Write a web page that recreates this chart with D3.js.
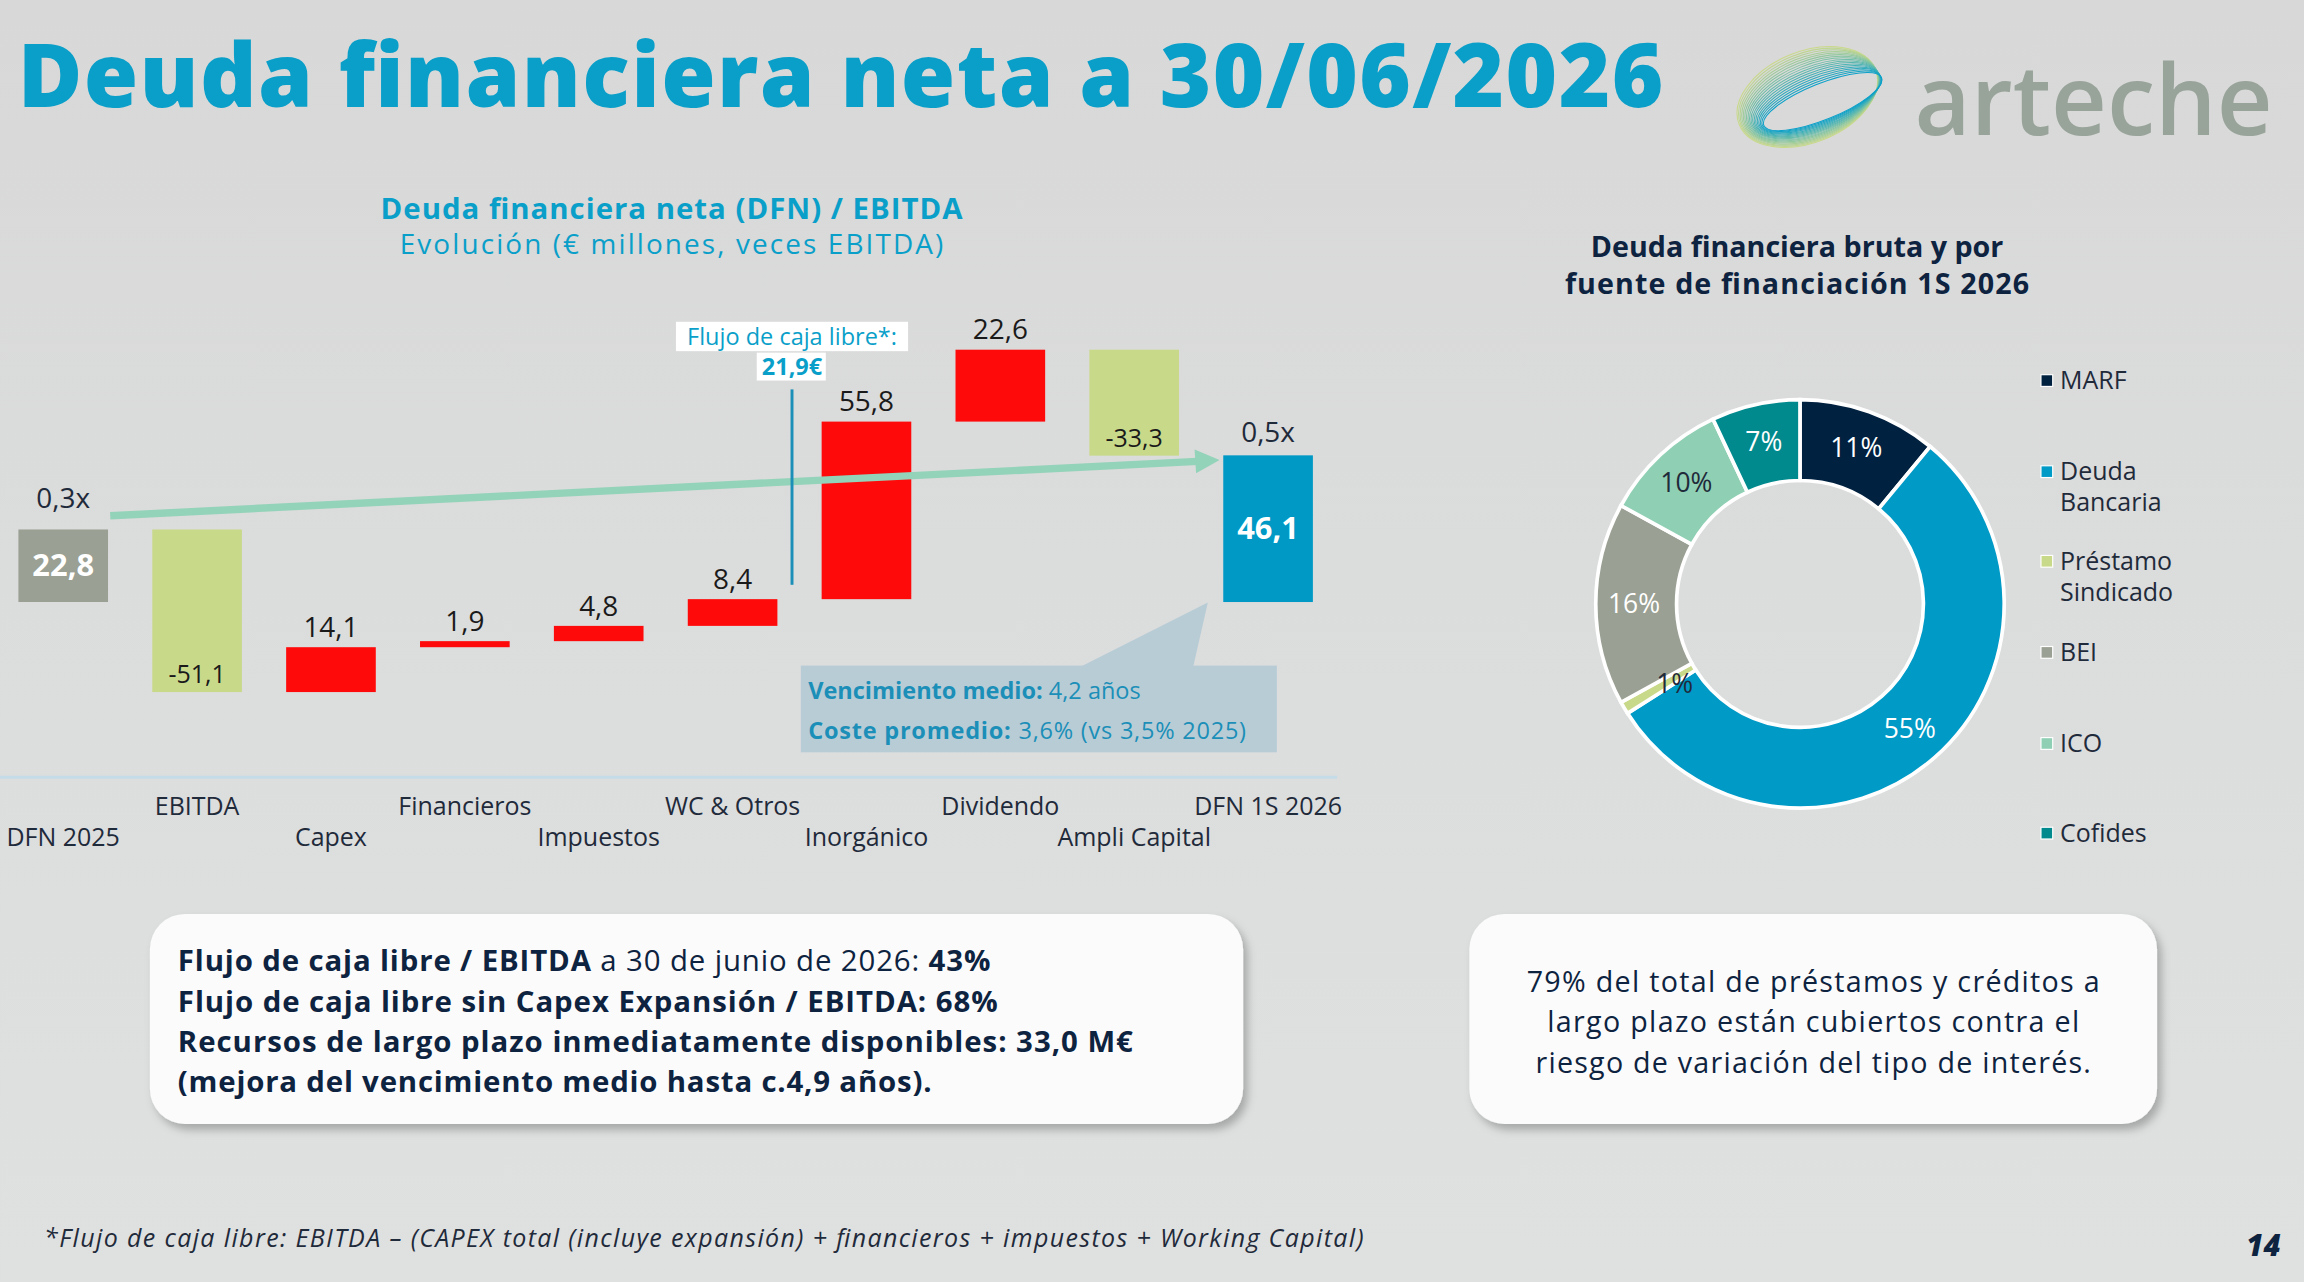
<!DOCTYPE html>
<html><head><meta charset="utf-8">
<script src="https://cdn.jsdelivr.net/npm/d3@7"></script>
<style>
body{margin:0;background:#d9d9d9;overflow:hidden}
text{font-family:"Open Sans",sans-serif}
</style></head><body>
<svg id="c" width="2304" height="1282" viewBox="0 0 1568 872.5"></svg>
<script>
// waterfall data
const steps = ["DFN 2025","EBITDA","Capex","Financieros","Impuestos","WC & Otros","Inorgánico","Dividendo","Ampli Capital","DFN 1S 2026"];
const deltas = [22.8,-51.1,14.1,1.9,4.8,8.4,55.8,22.6,-33.3,46.1];
const labels = ["22,8","-51,1","14,1","1,9","4,8","8,4","55,8","22,6","-33,3","46,1"];
const ratios = ["0,3x","0,5x"];
// donut data
const sources = ["MARF","Deuda Bancaria","Préstamo Sindicado","BEI","ICO","Cofides"];
const shares = [11,55,1,16,10,7];
const srcColors = ["#002140","#009ac7","#c9d98a","#9aa093","#8fcfb3","#008a8e"];

const svg = d3.select("#c");
const bg = svg.append("defs").append("linearGradient").attr("id","bg").attr("x1",0).attr("y1",0).attr("x2",0).attr("y2",1);
bg.append("stop").attr("offset",0).attr("stop-color","#d8d8d8");
bg.append("stop").attr("offset",1).attr("stop-color","#dfe1e1");
svg.append("rect").attr("width",1568).attr("height",873).attr("fill","url(#bg)");

svg.append("text").attr("x",12).attr("y",73).attr("font-size",60).attr("font-weight",800)
  .attr("fill","#0a9fc9").attr("textLength",1120).attr("lengthAdjust","spacing").text("Deuda financiera neta a 30/06/2026");

// logo
const lg = svg.append("g").attr("transform","translate(1230,66) rotate(-22)");
for (let i=0;i<18;i++){
  lg.append("ellipse").attr("rx",50-i*0.4).attr("ry",31-i*1.1).attr("cx",i*0.5).attr("cy",i*0.4)
    .attr("fill","none").attr("stroke",d3.interpolateRgb("#c9d98a","#0aa0c9")(i/17)).attr("stroke-width",0.7);
}
svg.append("text").attr("x",1303).attr("y",92).attr("font-size",66).attr("font-weight",600)
  .attr("fill","#98a39a").attr("font-family","Lato").text("arteche");

// chart titles
svg.append("text").attr("x",457).attr("y",149).attr("text-anchor","middle").attr("font-size",20).attr("font-weight",700).attr("fill","#0a9fc9").attr("textLength",396).text("Deuda financiera neta (DFN) / EBITDA");
svg.append("text").attr("x",457).attr("y",173).attr("text-anchor","middle").attr("font-size",19).attr("fill","#0a9fc9").attr("textLength",370).text("Evolución (€ millones, veces EBITDA)");

// waterfall
let run = 0;
const bars = deltas.map((d,i)=>{
  if (i===0 || i===deltas.length-1){ run = d; return {y0:0,y1:d,i}; }
  const y0 = run; run += d; return {y0,y1:run,i};
});
const x = d3.scalePoint().domain(steps).range([43,863]);
const y = d3.scaleLinear().domain([-28.3,79.3]).range([471,238]);
const bw = 61;
const isEnd = b => b.i===0 || b.i===steps.length-1;
const colOf = (b)=> b.i===0 ? "#9aa093" : b.i===steps.length-1 ? "#0099c6" : (deltas[b.i]<0 ? "#c9d98a" : "#ff0a0a");

svg.append("line").attr("x1",0).attr("x2",910).attr("y1",529).attr("y2",529).attr("stroke","#c4dbe8").attr("stroke-width",2);

svg.selectAll(".bar").data(bars).enter().append("rect")
  .attr("x",b=>x(steps[b.i])-bw/2).attr("width",bw)
  .attr("y",b=>y(Math.max(b.y0,b.y1))).attr("height",b=>Math.abs(y(b.y0)-y(b.y1)))
  .attr("fill",colOf);

svg.selectAll(".vl").data(bars).enter().append("text")
  .attr("x",b=>x(steps[b.i]))
  .attr("y",b=>{
    const top=y(Math.max(b.y0,b.y1)), bot=y(Math.min(b.y0,b.y1));
    if (isEnd(b)) return (top+bot)/2+7;
    if (deltas[b.i]<0) return bot-6;
    return top-7;
  })
  .attr("text-anchor","middle")
  .attr("font-size",b=>isEnd(b)?21:(deltas[b.i]<0?17:19))
  .attr("font-weight",b=>isEnd(b)?700:400)
  .attr("fill",b=>isEnd(b)?"#fff":"#1a1a1a")
  .text(b=>labels[b.i]);

svg.selectAll(".cat").data(steps).enter().append("text")
  .attr("x",d=>x(d)).attr("y",(d,i)=>i%2?555:576).attr("text-anchor","middle")
  .attr("font-size",17).attr("fill","#1f2a3a").text(d=>d);

// ratio labels
svg.append("text").attr("x",43).attr("y",346).attr("text-anchor","middle").attr("font-size",19).attr("fill","#1f2a3a").text(ratios[0]);
svg.append("text").attr("x",863).attr("y",301).attr("text-anchor","middle").attr("font-size",19).attr("fill","#1f2a3a").text(ratios[1]);

// arrow
svg.append("line").attr("x1",75).attr("y1",351).attr("x2",815).attr("y2",314).attr("stroke","#93d3b9").attr("stroke-width",5);
svg.append("path").attr("d","M813,306 L830,313 L814,322 Z").attr("fill","#93d3b9");

// flujo annotation
svg.append("line").attr("x1",539).attr("x2",539).attr("y1",265).attr("y2",398).attr("stroke","#1b8fb8").attr("stroke-width",2);
svg.append("rect").attr("x",460).attr("y",219).attr("width",158).attr("height",20).attr("fill","#fff");
svg.append("text").attr("x",539).attr("y",235).attr("text-anchor","middle").attr("font-size",16).attr("fill","#0a9fc9").text("Flujo de caja libre*:");
svg.append("rect").attr("x",515).attr("y",240).attr("width",47).attr("height",19).attr("fill","#fff");
svg.append("text").attr("x",539).attr("y",255).attr("text-anchor","middle").attr("font-size",16).attr("font-weight",700).attr("fill","#0a9fc9").text("21,9€");

// callout
svg.append("path").attr("d","M735,454 L822,410 L812,454 Z").attr("fill","#b8ccd6");
svg.append("rect").attr("x",545).attr("y",453).attr("width",324).attr("height",59).attr("fill","#b8ccd6");
const c1 = svg.append("text").attr("x",550).attr("y",476).attr("font-size",16).attr("fill","#1b8fb8");
c1.append("tspan").attr("font-weight",700).text("Vencimiento medio: ");
c1.append("tspan").text("4,2 años");
const c2 = svg.append("text").attr("x",550).attr("y",503).attr("font-size",16).attr("fill","#1b8fb8").attr("textLength",298);
c2.append("tspan").attr("font-weight",700).text("Coste promedio: ");
c2.append("tspan").text("3,6% (vs 3,5% 2025)");

// donut
svg.append("text").attr("x",1223).attr("y",175).attr("text-anchor","middle").attr("font-size",19.5).attr("font-weight",700).attr("fill","#0d2340").text("Deuda financiera bruta y por");
svg.append("text").attr("x",1223).attr("y",200).attr("text-anchor","middle").attr("font-size",19.5).attr("font-weight",700).attr("fill","#0d2340").attr("textLength",316).text("fuente de financiación 1S 2026");
const pie = d3.pie().sort(null).value(d=>d)(shares);
const arc = d3.arc().innerRadius(84).outerRadius(139);
const lab = d3.arc().innerRadius(113).outerRadius(113);
const dg = svg.append("g").attr("transform","translate(1225,411)");
dg.selectAll("path").data(pie).enter().append("path").attr("d",arc)
  .attr("fill",(d,i)=>srcColors[i]).attr("stroke","#fff").attr("stroke-width",2.5);
dg.selectAll("text").data(pie).enter().append("text")
  .attr("transform",(d,i)=>{const c=lab.centroid(d); if(i===2){c[0]+=12;c[1]-=3;} return `translate(${c})`;})
  .attr("text-anchor","middle").attr("dy","0.35em").attr("font-size",18)
  .attr("fill",(d,i)=>(i===2||i===4)?"#1f2a3a":"#fff").text(d=>d.data+"%");

const legY = [[258],[320,341],[381,402],[443],[505],[566]];
sources.forEach((s,i)=>{
  svg.append("rect").attr("x",1389).attr("y",legY[i][0]-3).attr("width",8).attr("height",8).attr("fill",srcColors[i]).attr("stroke","#fff").attr("stroke-width",0.8);
  const words = i===1?["Deuda","Bancaria"]:i===2?["Préstamo","Sindicado"]:[s];
  words.forEach((w,j)=>svg.append("text").attr("x",1402).attr("y",legY[i][j]+7).attr("font-size",17).attr("fill","#1f2a3a").text(w));
});

// bottom boxes
const f = svg.append("defs").append("filter").attr("id","sh").attr("x","-10%").attr("y","-10%").attr("width","120%").attr("height","130%");
f.append("feDropShadow").attr("dx",3).attr("dy",4).attr("stdDeviation",3).attr("flood-color","#000").attr("flood-opacity",0.25);
svg.append("rect").attr("x",102).attr("y",622).attr("width",744).attr("height",143).attr("rx",24).attr("fill","#fbfbfb").attr("filter","url(#sh)");
svg.append("rect").attr("x",1000).attr("y",622).attr("width",468).attr("height",143).attr("rx",24).attr("fill","#fbfbfb").attr("filter","url(#sh)");
const lines = [
  [[["Flujo de caja libre / EBITDA",700],[" a 30 de junio de 2026: ",400],["43%",700]],553],
  [[["Flujo de caja libre sin Capex Expansión / EBITDA: 68%",700]],558],
  [[["Recursos de largo plazo inmediatamente disponibles: 33,0 M€",700]],650],
  [[["(mejora del vencimiento medio hasta c.4,9 años).",700]],513]
];
lines.forEach((ln,k)=>{
  const t = svg.append("text").attr("x",121).attr("y",661+k*27.5).attr("font-size",20).attr("fill","#0d2340").attr("textLength",ln[1]);
  ln[0].forEach(p=>t.append("tspan").attr("font-weight",p[1]).text(p[0]));
});
[["79% del total de préstamos y créditos a",390],["largo plazo están cubiertos contra el",362],["riesgo de variación del tipo de interés.",378]].forEach((s,k)=>
  svg.append("text").attr("x",1234).attr("y",675+k*27.5).attr("text-anchor","middle").attr("font-size",19.5).attr("fill","#0d2340").attr("textLength",s[1]).text(s[0]));

svg.append("text").attr("x",30).attr("y",849).attr("font-size",17).attr("font-style","italic").attr("fill","#1f2a3a").attr("textLength",898)
  .text("*Flujo de caja libre: EBITDA – (CAPEX total (incluye expansión) + financieros + impuestos + Working Capital)");
svg.append("text").attr("x",1552).attr("y",855).attr("text-anchor","end").attr("font-size",20).attr("font-style","italic").attr("font-weight",800).attr("fill","#0d2340").text("14");
</script></body></html>
